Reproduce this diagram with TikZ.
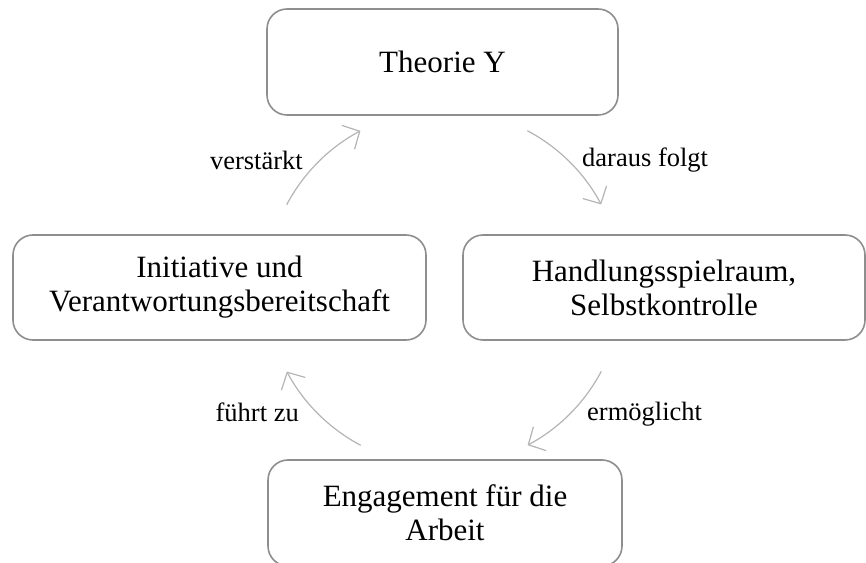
\documentclass[tikz,border=0pt]{standalone}
\usepackage{fontspec}
\setmainfont{Liberation Serif}
\usetikzlibrary{arrows.meta,positioning,calc}
\definecolor{ink}{HTML}{000000}
\definecolor{boxGray}{HTML}{8E8E8E}
\definecolor{arcGray}{HTML}{B4B4B4}
\tikzset{
  stage/.style={rounded corners=20pt,draw=boxGray,line width=1.6pt,
    fill=white,text=ink,align=center,inner sep=4pt,
    minimum height=105pt},
  link/.style={-{Straight Barb[length=13pt,width=27pt]},draw=arcGray,
    line width=1.2pt,line cap=round},
  tag/.style={text=ink,font=\fontsize{26.5}{30}\selectfont,inner sep=0pt}
}

\begin{document}
\begin{tikzpicture}[font=\fontsize{31}{34}\selectfont,x=1pt,y=1pt]
  \path[use as bounding box] (0,0) rectangle (866,562);

  \node[stage,minimum width=351pt,minimum height=106pt] (theory) at (442.5,500)
    {Theorie Y};
  \node[stage,minimum width=413pt] (initiative) at (219.5,274.5)
    {Initiative und\\Verantwortungsbereitschaft};
  \node[stage,minimum width=402pt] (latitude) at (664,274.5)
    {Handlungsspielraum,\\Selbstkontrolle};
  \node[stage,minimum width=354pt,minimum height=106pt] (engagement) at (445,49)
    {Engagement für die\\Arbeit};

  % Cycle arrows: arcs on one circle round the middle of the four boxes.
  \coordinate (hub) at (444,274);
  \foreach \a in {152,62,-28,-118}
    \draw[link] (hub) ++(\a:178) arc[start angle=\a,end angle=\a-34,radius=178];

  \node[tag,anchor=base east] (strengthens) at (303,392) {verstärkt};
  \node[tag,anchor=base west] (follows) at (582,395) {daraus folgt};
  \node[tag,anchor=base west] (enables) at (587,142) {ermöglicht};
  \node[tag,anchor=base east] (leadsto) at (299,140) {führt zu};
\end{tikzpicture}
\end{document}
